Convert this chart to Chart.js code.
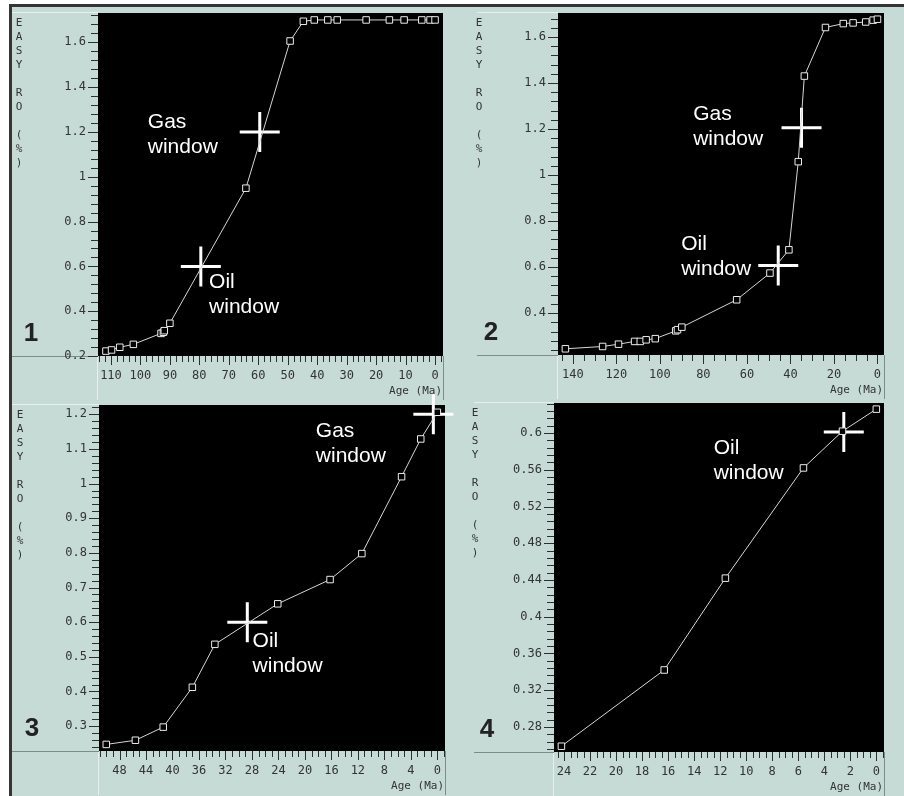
<!DOCTYPE html>
<html>
<head>
<meta charset="utf-8">
<script src="https://cdn.jsdelivr.net/npm/chart.js@4.4.1/dist/chart.umd.min.js"></script>
<style>
  html, body { margin: 0; padding: 0; background: #fff; }
  #frame { position: absolute; left: 9px; top: 4px; width: 892px; height: 789px;
           background: #c6dbd6; border-left: 3px solid #353535; border-top: 3px solid #353535; }
  canvas { position: absolute; left: 0; top: 0; }
</style>
</head>
<body>
<div id="frame"></div>
<canvas id="c1" width="904" height="796"></canvas>
<canvas id="c2" width="904" height="796"></canvas>
<canvas id="c3" width="904" height="796"></canvas>
<canvas id="c4" width="904" height="796"></canvas>
<script>
// ---- data (age in Ma, EASY Ro in %) ----
const p1Age = [111.7, 109.8, 107, 102.4, 93, 92.2, 91.9, 90, 64.2, 49.2, 44.7, 41, 36.4, 33.2, 23.4, 15.5, 10.5, 4.5, 1.7, 0];
const p1Ro  = [0.222, 0.227, 0.239, 0.252, 0.301, 0.306, 0.313, 0.346, 0.949, 1.606, 1.694, 1.70, 1.70, 1.70, 1.70, 1.70, 1.70, 1.70, 1.70, 1.70];
const p1XTicks = [0, 10, 20, 30, 40, 50, 60, 70, 80, 90, 100, 110];
const p1YTicks = [0.2, 0.4, 0.6, 0.8, 1, 1.2, 1.4, 1.6];
const p1Windows = [[79.5, 0.6], [59.5, 1.2]];
const p1Notes = [{ age: 97.5, ro: 1.218, text: ['Gas', 'window'] }, { age: 76.7, ro: 0.504, text: ['Oil', 'window'] }];

const p2Age = [143.4, 126.3, 119, 111.6, 109, 106.3, 102.1, 92.7, 91.9, 89.9, 64.7, 49.4, 40.7, 36.4, 33.6, 23.9, 15.7, 11.2, 5.4, 2, 0];
const p2Ro  = [0.245, 0.255, 0.265, 0.277, 0.277, 0.284, 0.289, 0.323, 0.328, 0.339, 0.458, 0.574, 0.675, 1.058, 1.43, 1.641, 1.658, 1.661, 1.665, 1.673, 1.677];
const p2XTicks = [0, 20, 40, 60, 80, 100, 120, 140];
const p2YTicks = [0.4, 0.6, 0.8, 1, 1.2, 1.4, 1.6];
const p2Windows = [[45.6, 0.607], [34.9, 1.205]];
const p2Notes = [{ age: 84.7, ro: 1.239, text: ['Gas', 'window'] }, { age: 90.2, ro: 0.675, text: ['Oil', 'window'] }];

const p3Age = [50, 45.6, 41.4, 37, 33.6, 24.1, 16.2, 11.4, 5.4, 2.5, 0];
const p3Ro  = [0.247, 0.259, 0.297, 0.412, 0.536, 0.653, 0.723, 0.798, 1.02, 1.129, 1.206];
const p3XTicks = [0, 4, 8, 12, 16, 20, 24, 28, 32, 36, 40, 44, 48];
const p3YTicks = [0.3, 0.4, 0.5, 0.6, 0.7, 0.8, 0.9, 1, 1.1, 1.2];
const p3Windows = [[28.7, 0.6], [0.6, 1.2]];
const p3Notes = [{ age: 18.35, ro: 1.135, text: ['Gas', 'window'] }, { age: 27.9, ro: 0.528, text: ['Oil', 'window'] }];

const p4Age = [24.2, 16.3, 11.6, 5.6, 2.6, 0];
const p4Ro  = [0.259, 0.342, 0.442, 0.562, 0.602, 0.626];
const p4XTicks = [0, 2, 4, 6, 8, 10, 12, 14, 16, 18, 20, 22, 24];
const p4YTicks = [0.28, 0.32, 0.36, 0.4, 0.44, 0.48, 0.52, 0.56, 0.6];
const p4Windows = [[2.5, 0.601]];
const p4Notes = [{ age: 12.5, ro: 0.5775, text: ['Oil', 'window'] }];

const MONO = '"DejaVu Sans Mono", monospace';
const SANS = '"Liberation Sans", Arial, sans-serif';
const Y_W = 80, X_H = 40;

const panels = [
  { id: 'c1', num: '1', area: { l: 98, r: 443, t: 13, b: 356 }, boxLeft: 12,
    x: [-2.7, 114.4], y: [0.2, 1.731], xMinor: 2, yMinor: 0.04,
    age: p1Age, ro: p1Ro, xt: p1XTicks, yt: p1YTicks, win: p1Windows, notes: p1Notes },
  { id: 'c2', num: '2', area: { l: 558, r: 884, t: 13, b: 355 }, boxLeft: 477,
    x: [-3, 146.8], y: [0.218, 1.704], xMinor: 5, yMinor: 0.04,
    age: p2Age, ro: p2Ro, xt: p2XTicks, yt: p2YTicks, win: p2Windows, notes: p2Notes },
  { id: 'c3', num: '3', area: { l: 99, r: 445, t: 405, b: 751 }, boxLeft: 12,
    x: [-1.16, 51.1], y: [0.228, 1.227], xMinor: 1, yMinor: 0.02,
    age: p3Age, ro: p3Ro, xt: p3XTicks, yt: p3YTicks, win: p3Windows, notes: p3Notes },
  { id: 'c4', num: '4', area: { l: 554, r: 884, t: 403, b: 752 }, boxLeft: 474,
    x: [-0.59, 24.77], y: [0.2527, 0.6327], xMinor: 0.5, yMinor: 0.008,
    age: p4Age, ro: p4Ro, xt: p4XTicks, yt: p4YTicks, win: p4Windows, notes: p4Notes }
];

function seg(ctx, x1, y1, x2, y2) {
  ctx.beginPath(); ctx.moveTo(x1, y1); ctx.lineTo(x2, y2); ctx.stroke();
}

function isMajor(v, majors) {
  return majors.some(m => Math.abs(m - v) < 1e-6);
}

// black plot area, panel box lines, tick marks, labels
const deco = {
  id: 'deco',
  beforeDraw(chart, args, o) {
    const { ctx, chartArea: a } = chart;
    ctx.save();
    ctx.fillStyle = '#000';
    ctx.fillRect(a.left, a.top, a.right - a.left, a.bottom - a.top);
    ctx.lineWidth = 1;
    ctx.strokeStyle = '#e8f0ee';
    seg(ctx, o.boxLeft, a.top - 0.5, a.left, a.top - 0.5);
    seg(ctx, a.left - 0.5, a.bottom, a.left - 0.5, a.bottom + 44);
    ctx.strokeStyle = '#7d8c89';
    seg(ctx, o.boxLeft, a.bottom + 0.5, a.left, a.bottom + 0.5);
    seg(ctx, a.right + 0.5, a.bottom, a.right + 0.5, a.bottom + 44);
    ctx.restore();
  },
  afterDraw(chart, args, o) {
    const { ctx, chartArea: a } = chart;
    const xs = chart.scales.x, ys = chart.scales.y;
    ctx.save();
    ctx.strokeStyle = '#2e2e2e';
    ctx.lineWidth = 1;
    // y ticks
    for (let n = Math.ceil(ys.min / o.yMinor - 1e-6); n * o.yMinor <= ys.max + 1e-9; n++) {
      const v = n * o.yMinor;
      const py = Math.round(ys.getPixelForValue(v)) + 0.5;
      const len = isMajor(v, o.yt) ? 10 : 7;
      seg(ctx, a.left, py, a.left - len, py);
    }
    // x ticks
    for (let n = Math.ceil(xs.min / o.xMinor - 1e-6); n * o.xMinor <= xs.max + 1e-9; n++) {
      const v = n * o.xMinor;
      const px = Math.round(xs.getPixelForValue(v)) + 0.5;
      const len = isMajor(v, o.xt) ? 9 : 6;
      seg(ctx, px, a.bottom, px, a.bottom + len);
    }
    // x axis title
    ctx.fillStyle = '#333';
    ctx.font = '11px ' + MONO;
    ctx.textAlign = 'right';
    ctx.textBaseline = 'middle';
    ctx.fillText('Age (Ma)', a.right - 1, a.bottom + 35);
    // stacked y title
    ctx.textAlign = 'center';
    const letters = 'EASY RO (%)';
    for (let i = 0; i < letters.length; i++) {
      if (letters[i] !== ' ') ctx.fillText(letters[i], a.left - 79, a.top + 10 + i * 14);
    }
    // panel number
    ctx.fillStyle = '#222';
    ctx.font = 'bold 26px ' + SANS;
    ctx.fillText(o.num, a.left - 67, a.bottom - 22);
    // window notes
    ctx.fillStyle = '#fff';
    ctx.font = '21px ' + SANS;
    ctx.textAlign = 'left';
    ctx.textBaseline = 'alphabetic';
    o.notes.forEach(nt => {
      const px = xs.getPixelForValue(nt.age), py = ys.getPixelForValue(nt.ro);
      nt.text.forEach((t, i) => ctx.fillText(t, px, py + i * 25));
    });
    ctx.restore();
  }
};

panels.forEach(p => {
  const a = p.area;
  new Chart(document.getElementById(p.id), {
    type: 'scatter',
    data: {
      datasets: [
        { data: p.age.map((v, i) => ({ x: v, y: p.ro[i] })), showLine: true,
          borderColor: '#d6d6d6', borderWidth: 1,
          pointStyle: 'rect', pointRadius: 4.6, pointBackgroundColor: '#000',
          pointBorderColor: '#ececec', pointBorderWidth: 1 },
        { data: p.win.map(w => ({ x: w[0], y: w[1] })), showLine: false, clip: false,
          pointStyle: 'cross', pointRadius: 20, pointBorderColor: '#fff', pointBorderWidth: 3 }
      ]
    },
    options: {
      responsive: false,
      animation: false,
      events: [],
      layout: { autoPadding: false,
                padding: { left: a.l - Y_W, right: 904 - a.r, top: a.t, bottom: 796 - a.b - X_H } },
      plugins: { legend: { display: false }, tooltip: { enabled: false },
        deco: { num: p.num, boxLeft: p.boxLeft, xMinor: p.xMinor, yMinor: p.yMinor,
                xt: p.xt, yt: p.yt, notes: p.notes } },
      scales: {
        x: { type: 'linear', reverse: true, min: p.x[0], max: p.x[1],
             afterBuildTicks: s => { s.ticks = p.xt.map(v => ({ value: v })); },
             afterFit: s => { s.height = X_H; s.paddingLeft = 0; s.paddingRight = 0; },
             grid: { drawOnChartArea: false, tickLength: 9, color: 'rgba(0,0,0,0)' },
             border: { display: false },
             ticks: { autoSkip: false, maxRotation: 0, padding: 4, color: '#333',
                      font: { family: MONO, size: 12 }, callback: v => String(+v.toFixed(3)) } },
        y: { type: 'linear', min: p.y[0], max: p.y[1],
             afterBuildTicks: s => { s.ticks = p.yt.map(v => ({ value: v })); },
             afterFit: s => { s.width = Y_W; s.paddingTop = 0; s.paddingBottom = 0; },
             grid: { drawOnChartArea: false, tickLength: 9, color: 'rgba(0,0,0,0)' },
             border: { display: false },
             ticks: { autoSkip: false, padding: 3, color: '#333',
                      font: { family: MONO, size: 12 }, callback: v => String(+v.toFixed(3)) } }
      }
    },
    plugins: [deco]
  });
});
</script>
</body>
</html>
